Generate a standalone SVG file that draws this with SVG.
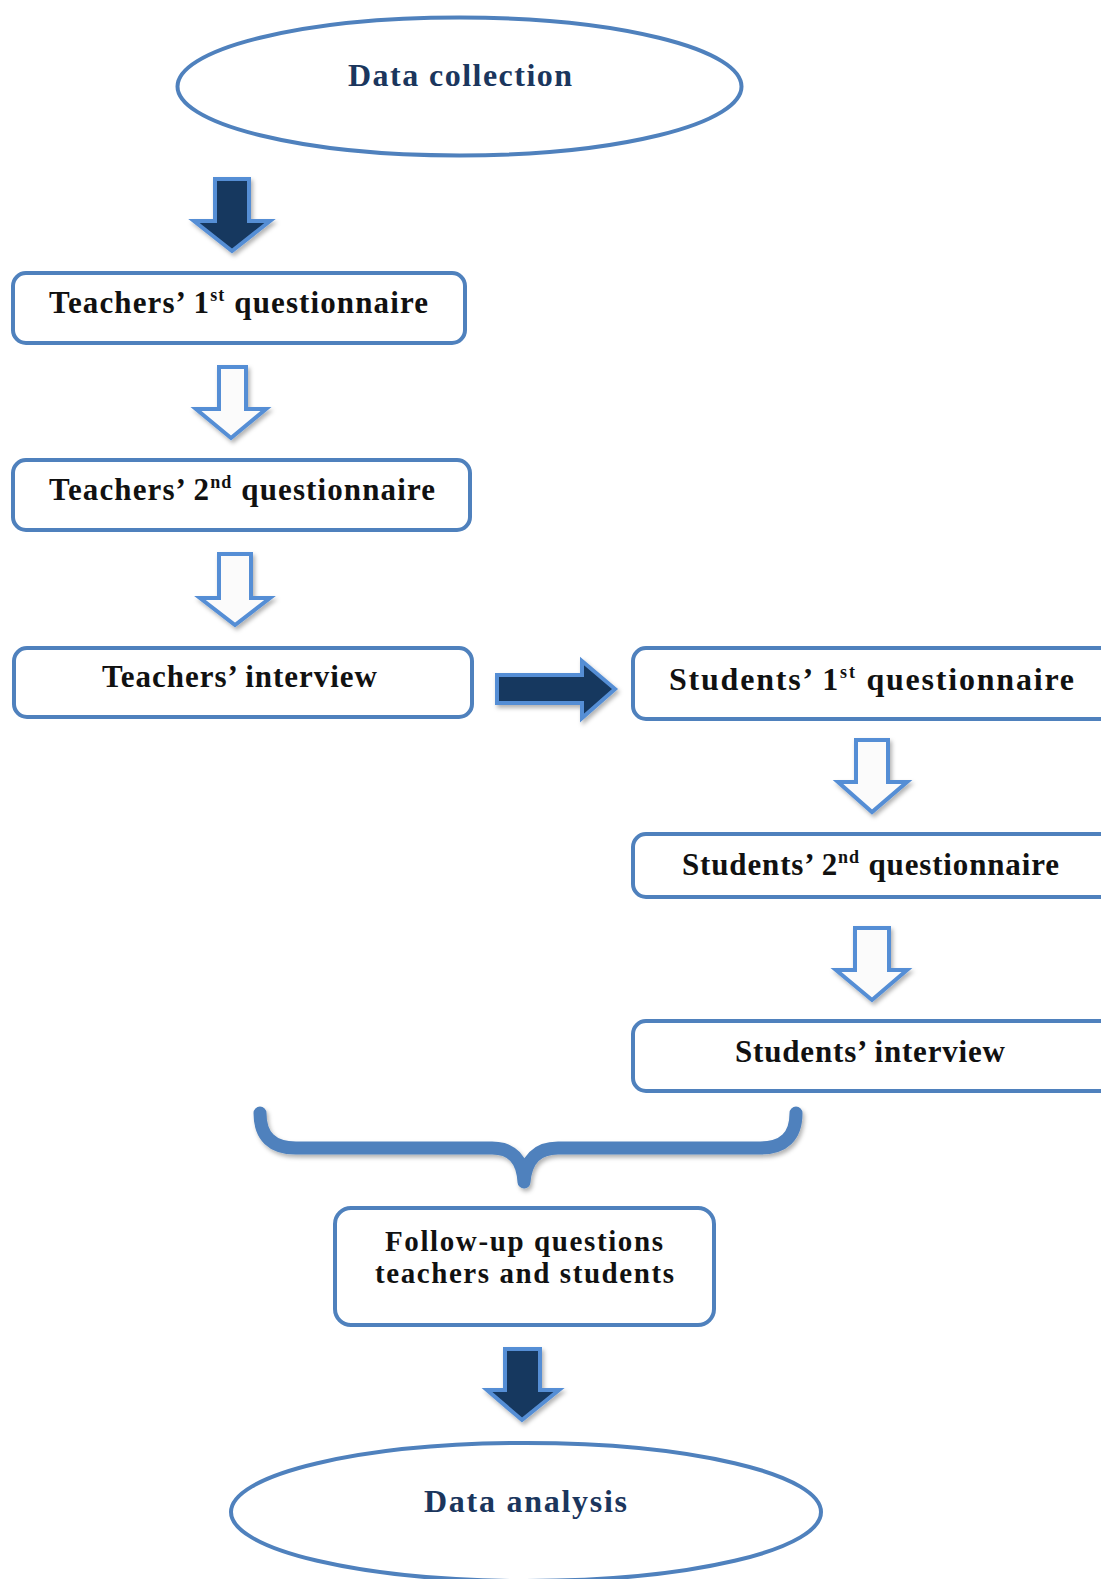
<svg xmlns="http://www.w3.org/2000/svg" width="1101" height="1579" viewBox="0 0 1101 1579">
<defs>
<filter id="sh" x="-20%" y="-20%" width="140%" height="150%">
<feDropShadow dx="2" dy="3" stdDeviation="2" flood-color="#000" flood-opacity="0.3"/>
</filter>
<style>
.box{fill:#fff;stroke:#4f81bd;stroke-width:4}
.ell{fill:#fff;stroke:#4f81bd;stroke-width:4}
.t{font-family:"Liberation Serif","Times New Roman",serif;font-weight:bold;font-size:31px;fill:#111}
.te{font-family:"Liberation Serif","Times New Roman",serif;font-weight:bold;font-size:32px;fill:#1b365d}
.sup{font-size:18px}
.dark{fill:#17375e;stroke:#558ed5;stroke-width:4;stroke-linejoin:miter;filter:url(#sh)}
.hollow{fill:#fbfbfb;stroke:#558ed5;stroke-width:4;stroke-linejoin:miter;filter:url(#sh)}
.brace{fill:none;stroke:#4f81bd;stroke-width:13;stroke-linecap:round;stroke-linejoin:round;filter:url(#sh)}
</style>
</defs>
<rect width="1101" height="1579" fill="#fff"/>

<g id="connectors">
<polygon class="dark" points="215,179 249,179 249,221 270,221 232,251 194,221 215,221"/>
<polygon class="hollow" points="219,367 246,367 246,409 266,409 231,438 196,409 219,409"/>
<polygon class="hollow" points="219,554 251,554 251,598 270,598 235,625 200,598 219,598"/>
<polygon class="dark" points="497,675 582,675 582,661 615,689 582,718 582,703 497,703"/>
<polygon class="hollow" points="856,740 888,740 888,782 907,782 872,812 838,782 856,782"/>
<polygon class="hollow" points="855,928 889,928 889,970 907,970 872,1000 836,970 855,970"/>
<path class="brace" d="M260 1113 Q260 1148 296 1148 L492 1148 Q522 1148 524 1182 Q527 1148 558 1148 L760 1148 Q796 1148 796 1113"/>
<polygon class="dark" points="505,1349 540,1349 540,1390 559,1390 522,1420 487,1390 505,1390"/>
</g>

<g id="data-collection">
<ellipse class="ell" cx="459.5" cy="86.5" rx="282" ry="69"/>
<text class="te" x="348" y="86" textLength="224" lengthAdjust="spacing">Data collection</text>
</g>

<g id="teachers-q1">
<rect class="box" x="13" y="273" width="452" height="70" rx="13"/>
<text class="t" x="49" y="313" textLength="379" lengthAdjust="spacing">Teachers’ 1<tspan class="sup" dy="-12">st</tspan><tspan dy="12"> questionnaire</tspan></text>
</g>

<g id="teachers-q2">
<rect class="box" x="13" y="460" width="457" height="70" rx="13"/>
<text class="t" x="49" y="500" textLength="386" lengthAdjust="spacing">Teachers’ 2<tspan class="sup" dy="-12">nd</tspan><tspan dy="12"> questionnaire</tspan></text>
</g>

<g id="teachers-interview">
<rect class="box" x="14" y="648" width="458" height="69" rx="13"/>
<text class="t" x="102" y="687" textLength="275" lengthAdjust="spacing">Teachers’ interview</text>
</g>

<g id="students-q1">
<rect class="box" x="633" y="648" width="500" height="71" rx="13"/>
<text class="t" x="669" y="690" style="font-size:32px" textLength="405" lengthAdjust="spacing">Students’ 1<tspan class="sup" dy="-12">st</tspan><tspan dy="12"> questionnaire</tspan></text>
</g>

<g id="students-q2">
<rect class="box" x="633" y="834" width="500" height="63" rx="13"/>
<text class="t" x="682" y="875" textLength="377" lengthAdjust="spacing">Students’ 2<tspan class="sup" dy="-12">nd</tspan><tspan dy="12"> questionnaire</tspan></text>
</g>

<g id="students-interview">
<rect class="box" x="633" y="1021" width="500" height="70" rx="13"/>
<text class="t" x="735" y="1062" textLength="270" lengthAdjust="spacing">Students’ interview</text>
</g>

<g id="follow-up">
<rect class="box" x="335" y="1208" width="379" height="117" rx="16"/>
<text class="t" x="385" y="1251" style="font-size:29px" textLength="278" lengthAdjust="spacing">Follow-up questions</text>
<text class="t" x="375" y="1283" style="font-size:29px" textLength="299" lengthAdjust="spacing">teachers and students</text>
</g>

<g id="data-analysis">
<ellipse class="ell" cx="526" cy="1512" rx="295" ry="69"/>
<text class="te" x="424" y="1512" textLength="203" lengthAdjust="spacing">Data analysis</text>
</g>
</svg>
